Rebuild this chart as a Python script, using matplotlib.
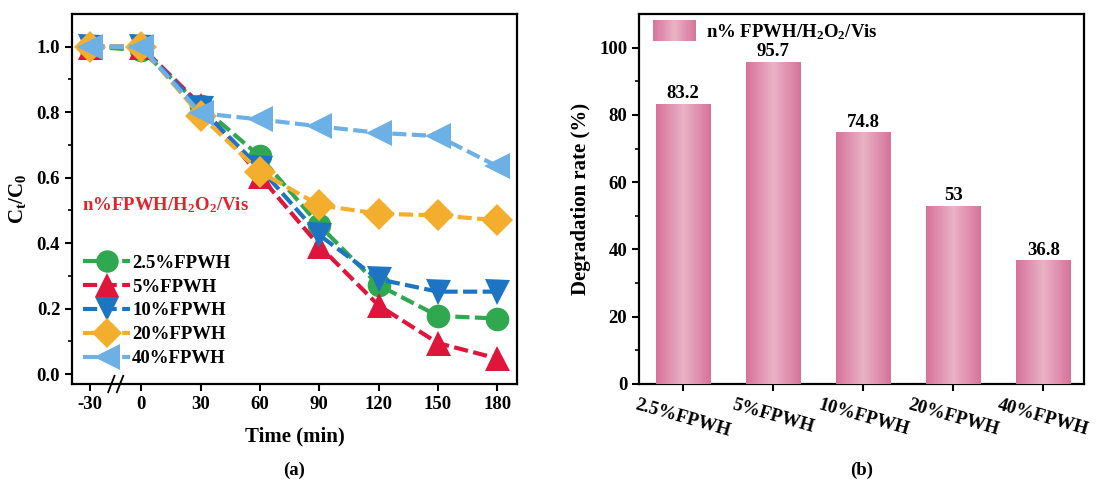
import numpy as np
import matplotlib
matplotlib.use("Agg")
import matplotlib.pyplot as plt
from matplotlib.legend_handler import HandlerBase
from matplotlib.patches import Rectangle
from matplotlib.colors import LinearSegmentedColormap, to_rgb

# ---------------- data ----------------
times = [-30, 0, 30, 60, 90, 120, 150, 180]
series_labels = ["2.5%FPWH", "5%FPWH", "10%FPWH", "20%FPWH", "40%FPWH"]
c_2p5 = [1.00, 0.99, 0.82, 0.665, 0.455, 0.272, 0.178, 0.170]
c_5 = [1.00, 1.00, 0.822, 0.605, 0.392, 0.210, 0.095, 0.048]
c_10 = [1.00, 1.00, 0.812, 0.630, 0.425, 0.290, 0.252, 0.252]
c_20 = [1.00, 1.00, 0.790, 0.618, 0.516, 0.490, 0.485, 0.470]
c_40 = [1.00, 1.00, 0.797, 0.778, 0.757, 0.737, 0.727, 0.635]
series_values = [c_2p5, c_5, c_10, c_20, c_40]

bar_categories = ["2.5%FPWH", "5%FPWH", "10%FPWH", "20%FPWH", "40%FPWH"]
bar_values = [83.2, 95.7, 74.8, 53, 36.8]
bar_value_labels = ["83.2", "95.7", "74.8", "53", "36.8"]

# ---------------- style ----------------
plt.rcParams["font.family"] = ["Liberation Serif", "DejaVu Serif"]
plt.rcParams["font.weight"] = "bold"
plt.rcParams["axes.labelweight"] = "bold"
plt.rcParams["mathtext.default"] = "regular"
plt.rcParams["axes.linewidth"] = 1.6

colors = ["#2fa84f", "#e0153c", "#1c74c2", "#f4ae2d", "#6cb0e6"]
markers = ["o", "^", "v", "D", "<"]
msizes = [17, 18, 18, 16, 19]

BREAK_SCALE = 0.86


def tpos(t):
    t = np.asarray(t, dtype=float)
    return np.where(t < 0, t * BREAK_SCALE, t)


W, H = 1096, 482
fig = plt.figure(figsize=(W / 100, H / 100), dpi=100)

# ---------------- panel (a) ----------------
axa = fig.add_axes([72 / W, 98 / H, 445 / W, 370 / H])
xs = tpos(times)
for vals, lab, col, mk, ms in zip(series_values, series_labels, colors, markers, msizes):
    axa.plot(xs, vals, color=col, lw=3, ls=(0, (3.4, 1.3)), marker=mk,
             markersize=ms, markeredgewidth=0, label=lab)

axa.set_xlim(-35, 190)
axa.set_ylim(-0.03, 1.1)
axa.set_xticks(xs)
axa.set_xticklabels([str(t) for t in times])
axa.set_yticks(np.arange(0, 1.01, 0.2))
axa.set_yticklabels([f"{v:.1f}" for v in np.arange(0, 1.01, 0.2)])
axa.set_yticks(np.arange(0.1, 1.01, 0.2), minor=True)
axa.tick_params(axis="both", which="major", direction="out", length=5, width=1.5,
                labelsize=13.5)
axa.tick_params(axis="y", which="minor", direction="out", length=3, width=1.2)
axa.set_xlabel("Time (min)", fontsize=15, labelpad=10)
axa.set_ylabel("C$_t$/C$_0$", fontsize=15, labelpad=6)

# axis break marks
bx = float(tpos(-15))
for dx in (-2.2, 2.2):
    axa.plot([bx + dx - 1.6, bx + dx + 1.6], [-0.055, -0.005], color="black", lw=1.3,
             clip_on=False, transform=axa.transData)

axa.text(0.022, 0.484, "n%FPWH/H$_2$O$_2$/Vis", transform=axa.transAxes,
         color="#e8202a", fontsize=13.5, fontweight="bold", va="center", ha="left")

leg = axa.legend(loc="lower left", bbox_to_anchor=(0.0, 0.015), frameon=False,
                 fontsize=13.5, handlelength=2.5, handletextpad=0.1,
                 labelspacing=0.36, borderaxespad=0.2, markerscale=0.95)

fig.text((72 + 445 / 2) / W, 1 - 470 / H, "(a)", ha="center", va="center",
         fontsize=13.5, fontweight="bold")

# ---------------- panel (b) ----------------
axb = fig.add_axes([639 / W, 98 / H, 445 / W, 370 / H])
edge_col = "#d7729a"
mid_col = "#e9b3c5"
grad_cmap = LinearSegmentedColormap.from_list("pinkgrad", [edge_col, mid_col, edge_col])
xb = np.arange(len(bar_categories))
bw = 0.61
bars = axb.bar(xb, bar_values, width=bw, color=mid_col, edgecolor="none", zorder=2)
grad = np.linspace(0, 1, 256).reshape(1, -1)
for b in bars:
    x0, y0 = b.get_x(), b.get_y()
    w, h = b.get_width(), b.get_height()
    im = axb.imshow(grad, cmap=grad_cmap, aspect="auto",
                    extent=[x0, x0 + w, y0, y0 + h], zorder=3, interpolation="bilinear")
    im.set_clip_path(b)
for x, v, s in zip(xb, bar_values, bar_value_labels):
    axb.text(x, v + 0.5, s, ha="center", va="bottom", fontsize=13.5, fontweight="bold",
             zorder=4)

axb.set_xlim(-0.49, 4.45)
axb.set_ylim(0, 110)
axb.set_xticks(xb)
axb.set_xticklabels(bar_categories, rotation=-16, ha="center", rotation_mode="default")
axb.set_yticks(np.arange(0, 101, 20))
axb.set_yticks(np.arange(10, 101, 20), minor=True)
axb.tick_params(axis="both", which="major", direction="out", length=5, width=1.5,
                labelsize=13.5)
axb.tick_params(axis="x", which="major", pad=4)
axb.tick_params(axis="y", which="minor", direction="out", length=3, width=1.2)
axb.set_ylabel("Degradation rate (%)", fontsize=15, labelpad=6)


class GradientHandler(HandlerBase):
    def create_artists(self, legend, orig_handle, xdescent, ydescent, width, height,
                       fontsize, trans):
        n = 40
        arts = []
        c1 = np.array(to_rgb(edge_col))
        c2 = np.array(to_rgb(mid_col))
        for i in range(n):
            f = abs((i + 0.5) / n - 0.5) * 2
            col = c2 * (1 - f) + c1 * f
            r = Rectangle((xdescent + width * i / n - 0.1, -ydescent - height * 0.3),
                          width / n + 0.3, height * 1.6, facecolor=col, edgecolor="none",
                          transform=trans)
            arts.append(r)
        return arts


proxy = Rectangle((0, 0), 1, 1)
axb.legend([proxy], ["n% FPWH/H$_2$O$_2$/Vis"], handler_map={Rectangle: GradientHandler()},
           loc="upper left", bbox_to_anchor=(0.0, 1.015), frameon=False, fontsize=13.5,
           handlelength=2.3, handletextpad=0.5, borderaxespad=0.35)

fig.text((639 + 445 / 2) / W, 1 - 470 / H, "(b)", ha="center", va="center",
         fontsize=13.5, fontweight="bold")

fig.savefig("out.png", dpi=100)
